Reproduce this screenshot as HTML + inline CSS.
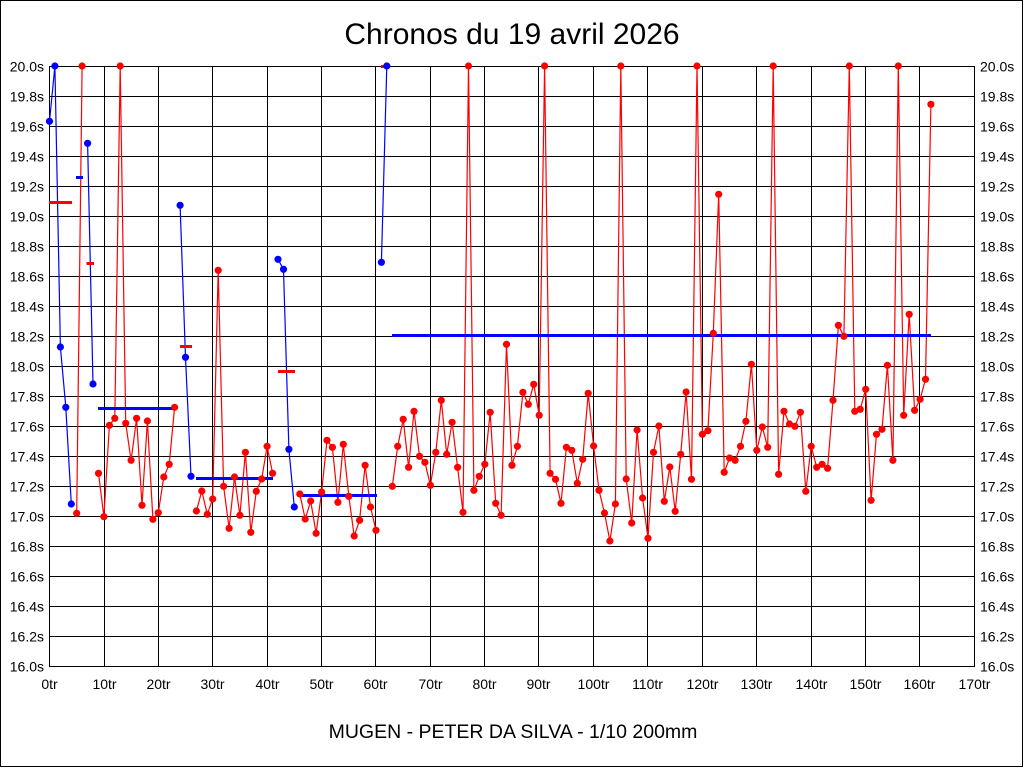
<!DOCTYPE html>
<html><head><meta charset="utf-8"><style>
html,body{margin:0;padding:0;background:#fff;width:1024px;height:768px;overflow:hidden}
svg{display:block}
text{font-family:"Liberation Sans",Arial,sans-serif;fill:#000}
.yl{font-size:14px}
.xl{font-size:14px;text-anchor:middle}
</style></head><body>
<svg width="1024" height="768" viewBox="0 0 1024 768" xmlns="http://www.w3.org/2000/svg">
<defs>
<marker id="mr" markerWidth="8" markerHeight="8" refX="4" refY="4" markerUnits="userSpaceOnUse" overflow="visible"><circle cx="4" cy="4" r="3.6" fill="#ff0000"/></marker>
<marker id="mb" markerWidth="8" markerHeight="8" refX="4" refY="4" markerUnits="userSpaceOnUse" overflow="visible"><circle cx="4" cy="4" r="3.6" fill="#0000ff"/></marker>
</defs>
<rect x="0" y="0" width="1024" height="768" fill="#fff"/>
<rect x="0.5" y="0.5" width="1022" height="766" fill="none" stroke="#000" stroke-width="1"/>

<text x="512" y="44" font-size="30" text-anchor="middle">Chronos du 19 avril 2026</text>
<text x="513" y="738" font-size="19.5" text-anchor="middle">MUGEN - PETER DA SILVA - 1/10 200mm</text>

<g stroke="#000" stroke-width="1" shape-rendering="crispEdges">
<path d="M49.5 66.5H974.5M49.5 96.5H974.5M49.5 126.5H974.5M49.5 156.5H974.5M49.5 186.5H974.5M49.5 216.5H974.5M49.5 246.5H974.5M49.5 276.5H974.5M49.5 306.5H974.5M49.5 336.5H974.5M49.5 366.5H974.5M49.5 396.5H974.5M49.5 426.5H974.5M49.5 456.5H974.5M49.5 486.5H974.5M49.5 516.5H974.5M49.5 546.5H974.5M49.5 576.5H974.5M49.5 606.5H974.5M49.5 636.5H974.5M49.5 666.5H974.5"/>
<path d="M49.5 66V667M104.5 66V667M158.5 66V667M212.5 66V667M267.5 66V667M321.5 66V667M375.5 66V667M430.5 66V667M484.5 66V667M538.5 66V667M593.5 66V667M647.5 66V667M702.5 66V667M756.5 66V667M811.5 66V667M865.5 66V667M919.5 66V667M974.5 66V667"/>
</g>

<g class="yl" text-anchor="end">
<text x="44" y="71.5">20.0s</text><text x="44" y="101.5">19.8s</text><text x="44" y="131.5">19.6s</text><text x="44" y="161.5">19.4s</text><text x="44" y="191.5">19.2s</text><text x="44" y="221.5">19.0s</text><text x="44" y="251.5">18.8s</text><text x="44" y="281.5">18.6s</text><text x="44" y="311.5">18.4s</text><text x="44" y="341.5">18.2s</text><text x="44" y="371.5">18.0s</text><text x="44" y="401.5">17.8s</text><text x="44" y="431.5">17.6s</text><text x="44" y="461.5">17.4s</text><text x="44" y="491.5">17.2s</text><text x="44" y="521.5">17.0s</text><text x="44" y="551.5">16.8s</text><text x="44" y="581.5">16.6s</text><text x="44" y="611.5">16.4s</text><text x="44" y="641.5">16.2s</text><text x="44" y="671.5">16.0s</text>
</g>
<g class="yl">
<text x="980" y="71.5">20.0s</text><text x="980" y="101.5">19.8s</text><text x="980" y="131.5">19.6s</text><text x="980" y="161.5">19.4s</text><text x="980" y="191.5">19.2s</text><text x="980" y="221.5">19.0s</text><text x="980" y="251.5">18.8s</text><text x="980" y="281.5">18.6s</text><text x="980" y="311.5">18.4s</text><text x="980" y="341.5">18.2s</text><text x="980" y="371.5">18.0s</text><text x="980" y="401.5">17.8s</text><text x="980" y="431.5">17.6s</text><text x="980" y="461.5">17.4s</text><text x="980" y="491.5">17.2s</text><text x="980" y="521.5">17.0s</text><text x="980" y="551.5">16.8s</text><text x="980" y="581.5">16.6s</text><text x="980" y="611.5">16.4s</text><text x="980" y="641.5">16.2s</text><text x="980" y="671.5">16.0s</text>
</g>
<g class="xl">
<text x="49.5" y="689">0tr</text><text x="104.5" y="689">10tr</text><text x="158.5" y="689">20tr</text><text x="212.5" y="689">30tr</text><text x="267.5" y="689">40tr</text><text x="321.5" y="689">50tr</text><text x="375.5" y="689">60tr</text><text x="430.5" y="689">70tr</text><text x="484.5" y="689">80tr</text><text x="538.5" y="689">90tr</text><text x="593.5" y="689">100tr</text><text x="647.5" y="689">110tr</text><text x="702.5" y="689">120tr</text><text x="756.5" y="689">130tr</text><text x="811.5" y="689">140tr</text><text x="865.5" y="689">150tr</text><text x="919.5" y="689">160tr</text><text x="974.5" y="689">170tr</text>
</g>

<!-- series lines -->
<g fill="none" stroke-width="1.2" stroke-linejoin="round">
<polyline id="sA" stroke="#0000ff" points="49.5,121.3 54.9,66 60.4,347 65.8,407.3 71.3,504"/>
<polyline id="sB" stroke="#ff0000" points="76.7,513.3 82.1,66"/>
<polyline id="sC" stroke="#0000ff" points="87.6,143.3 93.0,384"/>
<polyline id="sD" stroke="#ff0000" points="98.5,473.3 103.9,516.7 109.4,425.3 114.8,418.3 120.2,66 125.7,423.3 131.1,460.3 136.6,418.3 142.0,505.3 147.4,421 152.9,519.3 158.3,512.7 163.8,477 169.2,464.3 174.6,407.3"/>
<polyline id="sE" stroke="#0000ff" points="180.1,205.3 185.5,357.3 191.0,476.3"/>
<polyline id="sF" stroke="#ff0000" points="196.4,511 201.8,491 207.3,514.3 212.7,499 218.2,270.3 223.6,486.3 229.1,528.3 234.5,477 239.9,515.3 245.4,452.3 250.8,532.3 256.3,491.3 261.7,479 267.1,446.3 272.6,473.3"/>
<polyline id="sG" stroke="#0000ff" points="278.0,259.3 283.5,269.3 288.9,449.3 294.3,507"/>
<polyline id="sH" stroke="#ff0000" points="299.8,494 305.2,519 310.7,501 316.1,533.3 321.6,492 327.0,440.3 332.4,447.3 337.9,502.3 343.3,444.3 348.8,496.3 354.2,536 359.6,520.3 365.1,465.3 370.5,507 376.0,530.3"/>
<polyline id="sI" stroke="#0000ff" points="381.4,262.3 386.8,66"/>
<polyline id="sJ" stroke="#ff0000" points="392.3,486.3 397.7,446.3 403.2,419.3 408.6,467.3 414.0,411.3 419.5,456.3 424.9,462.3 430.4,485.3 435.8,452.3 441.3,400.3 446.7,454.3 452.1,422.3 457.6,467.3 463.0,512.3 468.5,66 473.9,490.3 479.3,476.3 484.8,464.3 490.2,412.3 495.7,503.3 501.1,515.3 506.5,344.3 512.0,465.3 517.4,446.3 522.9,392.3 528.3,404.3 533.7,384.3 539.2,415.3 544.6,66 550.1,473.3 555.5,479.3 561.0,503.3 566.4,447.3 571.8,450.3 577.3,483.3 582.7,459.3 588.2,393.3 593.6,446 599.0,490.3 604.5,513 609.9,541 615.4,504 620.8,66 626.2,479 631.7,523 637.1,430 642.6,498 648.0,538.3 653.5,452.3 658.9,426 664.3,501.3 669.8,467 675.2,511.3 680.7,454.3 686.1,392 691.5,479.3 697.0,66 702.4,434.3 707.9,430.7 713.3,333.3 718.7,194.3 724.2,472.3 729.6,458 735.1,460.3 740.5,446.3 745.9,421.3 751.4,364.3 756.8,450.3 762.3,427 767.7,447.3 773.2,66 778.6,474.3 784.0,411.3 789.5,424 794.9,426.3 800.4,412.3 805.8,491.3 811.2,446.3 816.7,467.3 822.1,464.3 827.6,468.3 833.0,400.3 838.4,325.3 843.9,336.3 849.3,66 854.8,411.3 860.2,409.3 865.7,389.3 871.1,500.3 876.5,434.3 882.0,429.3 887.4,365.3 892.9,460.3 898.3,66 903.7,415.3 909.2,314.3 914.6,410.3 920.1,399.3 925.5,379.3 930.9,104.3"/>
</g>

<!-- average bars -->
<g stroke-width="3" shape-rendering="crispEdges">
<path stroke="#ff0000" d="M49 202.5H72M86.5 263.5H94M180 346.5H192M278 371.5H295M381 66.5H387"/>
<path stroke="#0000ff" d="M76 177.5H83M98 408.5H175M196 478.5H273M299 495.5H377M392 335.5H931"/>
</g>

<!-- dots -->
<g fill="none" stroke="none">
<polyline marker-start="url(#mb)" marker-mid="url(#mb)" marker-end="url(#mb)" points="49.5,121.3 54.9,66 60.4,347 65.8,407.3 71.3,504"/>
<polyline marker-start="url(#mr)" marker-mid="url(#mr)" marker-end="url(#mr)" points="76.7,513.3 82.1,66"/>
<polyline marker-start="url(#mb)" marker-mid="url(#mb)" marker-end="url(#mb)" points="87.6,143.3 93.0,384"/>
<polyline marker-start="url(#mr)" marker-mid="url(#mr)" marker-end="url(#mr)" points="98.5,473.3 103.9,516.7 109.4,425.3 114.8,418.3 120.2,66 125.7,423.3 131.1,460.3 136.6,418.3 142.0,505.3 147.4,421 152.9,519.3 158.3,512.7 163.8,477 169.2,464.3 174.6,407.3"/>
<polyline marker-start="url(#mb)" marker-mid="url(#mb)" marker-end="url(#mb)" points="180.1,205.3 185.5,357.3 191.0,476.3"/>
<polyline marker-start="url(#mr)" marker-mid="url(#mr)" marker-end="url(#mr)" points="196.4,511 201.8,491 207.3,514.3 212.7,499 218.2,270.3 223.6,486.3 229.1,528.3 234.5,477 239.9,515.3 245.4,452.3 250.8,532.3 256.3,491.3 261.7,479 267.1,446.3 272.6,473.3"/>
<polyline marker-start="url(#mb)" marker-mid="url(#mb)" marker-end="url(#mb)" points="278.0,259.3 283.5,269.3 288.9,449.3 294.3,507"/>
<polyline marker-start="url(#mr)" marker-mid="url(#mr)" marker-end="url(#mr)" points="299.8,494 305.2,519 310.7,501 316.1,533.3 321.6,492 327.0,440.3 332.4,447.3 337.9,502.3 343.3,444.3 348.8,496.3 354.2,536 359.6,520.3 365.1,465.3 370.5,507 376.0,530.3"/>
<polyline marker-start="url(#mb)" marker-mid="url(#mb)" marker-end="url(#mb)" points="381.4,262.3 386.8,66"/>
<polyline marker-start="url(#mr)" marker-mid="url(#mr)" marker-end="url(#mr)" points="392.3,486.3 397.7,446.3 403.2,419.3 408.6,467.3 414.0,411.3 419.5,456.3 424.9,462.3 430.4,485.3 435.8,452.3 441.3,400.3 446.7,454.3 452.1,422.3 457.6,467.3 463.0,512.3 468.5,66 473.9,490.3 479.3,476.3 484.8,464.3 490.2,412.3 495.7,503.3 501.1,515.3 506.5,344.3 512.0,465.3 517.4,446.3 522.9,392.3 528.3,404.3 533.7,384.3 539.2,415.3 544.6,66 550.1,473.3 555.5,479.3 561.0,503.3 566.4,447.3 571.8,450.3 577.3,483.3 582.7,459.3 588.2,393.3 593.6,446 599.0,490.3 604.5,513 609.9,541 615.4,504 620.8,66 626.2,479 631.7,523 637.1,430 642.6,498 648.0,538.3 653.5,452.3 658.9,426 664.3,501.3 669.8,467 675.2,511.3 680.7,454.3 686.1,392 691.5,479.3 697.0,66 702.4,434.3 707.9,430.7 713.3,333.3 718.7,194.3 724.2,472.3 729.6,458 735.1,460.3 740.5,446.3 745.9,421.3 751.4,364.3 756.8,450.3 762.3,427 767.7,447.3 773.2,66 778.6,474.3 784.0,411.3 789.5,424 794.9,426.3 800.4,412.3 805.8,491.3 811.2,446.3 816.7,467.3 822.1,464.3 827.6,468.3 833.0,400.3 838.4,325.3 843.9,336.3 849.3,66 854.8,411.3 860.2,409.3 865.7,389.3 871.1,500.3 876.5,434.3 882.0,429.3 887.4,365.3 892.9,460.3 898.3,66 903.7,415.3 909.2,314.3 914.6,410.3 920.1,399.3 925.5,379.3 930.9,104.3"/>
</g>
</svg>
</body></html>
